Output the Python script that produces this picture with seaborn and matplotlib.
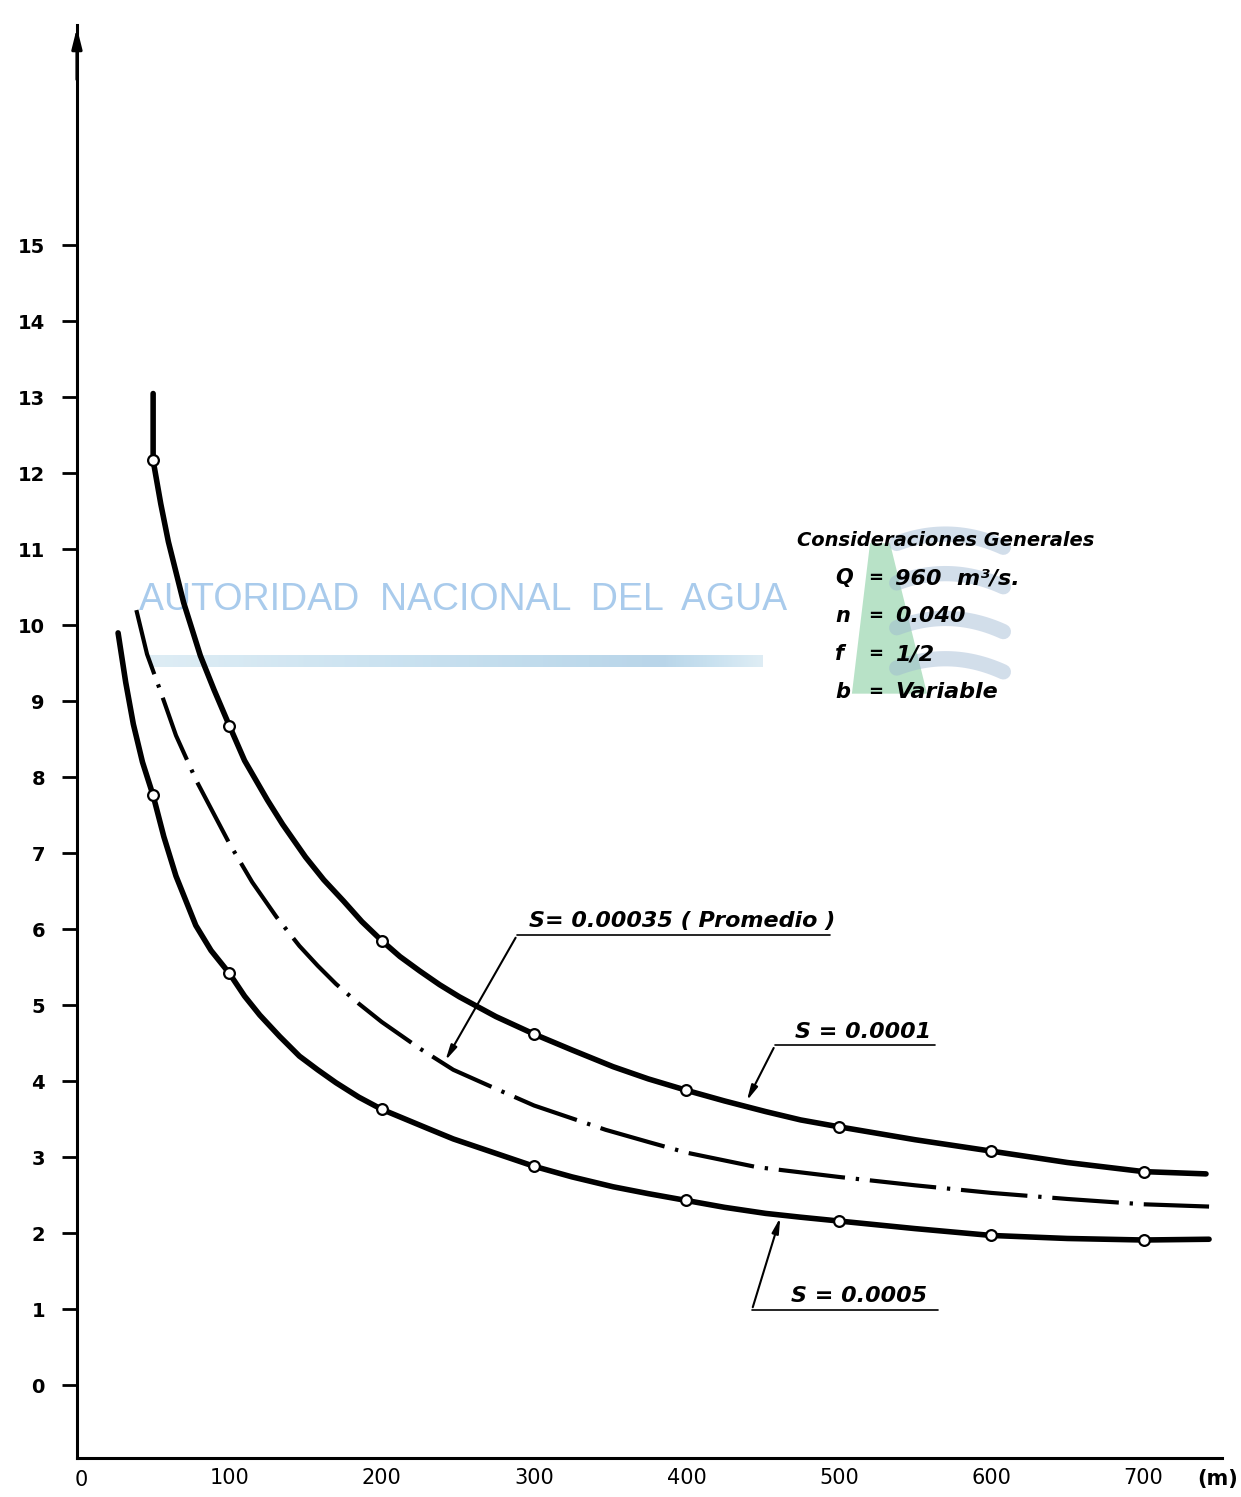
import numpy as np
import pandas as pd
import seaborn as sns
import matplotlib.pyplot as plt
from matplotlib.patches import Polygon

sns.set_style('white')
plt.rcParams['font.family'] = ['DejaVu Sans']
plt.rcParams['text.color'] = 'black'
plt.rcParams['xtick.color'] = 'black'
plt.rcParams['ytick.color'] = 'black'

# valores (x en m, y en m)
x_upper = [50, 50, 55, 60, 70, 81, 90, 100, 110, 125, 135, 150, 162, 175, 187, 200, 212, 225, 238, 251,
           275, 300, 325, 352, 375, 400, 425, 452, 475, 500, 550, 600, 650, 700, 741]
y_upper = [13.05, 12.17, 11.6, 11.1, 10.3, 9.6, 9.15, 8.68, 8.22, 7.7, 7.38, 6.95, 6.65, 6.37, 6.1, 5.85,
           5.64, 5.45, 5.27, 5.11, 4.85, 4.62, 4.41, 4.19, 4.03, 3.88, 3.74, 3.60, 3.49, 3.40, 3.23, 3.08,
           2.93, 2.81, 2.78]

x_mid = [39, 46, 54.5, 65, 78.5, 100, 115, 131, 146, 158, 170, 185, 200, 225, 247, 275, 300, 325, 347,
         375, 400, 446, 500, 550, 600, 650, 700, 743]
y_mid = [10.2, 9.62, 9.15, 8.55, 7.95, 7.13, 6.62, 6.16, 5.78, 5.52, 5.28, 5.02, 4.78, 4.43, 4.15, 3.9,
         3.68, 3.51, 3.36, 3.2, 3.06, 2.87, 2.74, 2.63, 2.53, 2.45, 2.38, 2.35]

x_lower = [27, 32, 37, 43, 50, 57, 65, 78, 88, 100, 110, 120, 133, 146, 158, 170, 185, 200, 230, 247,
           300, 325, 352, 375, 400, 425, 452, 475, 500, 550, 600, 650, 700, 743]
y_lower = [9.9, 9.25, 8.7, 8.2, 7.76, 7.22, 6.7, 6.05, 5.72, 5.42, 5.12, 4.87, 4.59, 4.33, 4.15, 3.98,
           3.79, 3.63, 3.38, 3.24, 2.88, 2.74, 2.61, 2.52, 2.43, 2.34, 2.26, 2.21, 2.16, 2.06, 1.97, 1.93,
           1.91, 1.92]

# puntos calculados (circulos)
x_pts = [50, 100, 200, 300, 400, 500, 600, 700]
y_pts_upper = [12.17, 8.68, 5.85, 4.62, 3.88, 3.40, 3.08, 2.81]
y_pts_lower = [7.76, 5.42, 3.63, 2.88, 2.43, 2.16, 1.97, 1.91]

x_ticks = [100, 200, 300, 400, 500, 600, 700]
y_ticks = list(range(0, 16))

df_up = pd.DataFrame({'x': x_upper, 'y': y_upper})
df_mid = pd.DataFrame({'x': x_mid, 'y': y_mid})
df_low = pd.DataFrame({'x': x_lower, 'y': y_lower})
df_pts = pd.DataFrame({'x': x_pts * 2, 'y': y_pts_upper + y_pts_lower})

fig = plt.figure(figsize=(12.41, 14.97), dpi=100)
ax = fig.add_axes([0.062, 0.026, 0.9227, 0.9573])

# marca de agua
ax.text(41, 10.33, 'AUTORIDAD  NACIONAL  DEL  AGUA', fontsize=27, color='#a9cbec',
        family=['Liberation Sans Narrow', 'Liberation Sans'], va='center', ha='left', zorder=0)
grad = np.concatenate([np.linspace(0.1, 1, 200), np.linspace(1, 0.1, 40)]).reshape(1, -1)
ax.imshow(grad, extent=[48, 450, 9.45, 9.6], aspect='auto', cmap='Blues', alpha=0.35,
          vmin=-1, vmax=2, zorder=0)
ax.add_patch(Polygon([[508.6, 9.1], [557.9, 9.1], [533.6, 11.08], [520.5, 11.08]], closed=True,
                     color='#9ad6b0', alpha=0.7, lw=0, zorder=0))
for yy in [11.14, 10.62, 10.03, 9.5]:
    xs = np.linspace(538, 608, 30)
    ax.plot(xs, yy - 0.00012 * (xs - 570) ** 2 + 0.06, color='#9db6d2', lw=11, alpha=0.45,
            solid_capstyle='round', zorder=0)

sns.lineplot(data=df_up, x='x', y='y', ax=ax, sort=False, estimator=None, color='black', lw=4, zorder=3)
sns.lineplot(data=df_low, x='x', y='y', ax=ax, sort=False, estimator=None, color='black', lw=4, zorder=3)
sns.lineplot(data=df_mid, x='x', y='y', ax=ax, sort=False, estimator=None, color='black', lw=3,
             linestyle=(0, (16, 2.6, 0.8, 2.6)), zorder=3)
sns.scatterplot(data=df_pts, x='x', y='y', ax=ax, color='white', edgecolor='black', linewidth=1.6,
                s=60, zorder=4)

ax.set_xlim(0, 751.5)
ax.set_ylim(-0.96, 17.9)
ax.set_xticks(x_ticks)
ax.set_xticklabels([str(v) for v in x_ticks])
ax.set_yticks(y_ticks)
ax.set_yticklabels([str(v) for v in y_ticks], fontweight='bold')
ax.tick_params(axis='x', direction='inout', length=9, width=2, labelsize=15, pad=3)
ax.tick_params(axis='y', direction='out', length=11, width=2, labelsize=14, pad=12, left=True)
ax.set_xlabel('')
ax.set_ylabel('')
ax.text(3, -1.12, '0', fontsize=15, ha='center', va='top')
ax.text(762, -1.1, '(m)', fontsize=15, ha='right', va='top', fontweight='bold')
for side in ['top', 'right']:
    ax.spines[side].set_visible(False)
for side in ['left', 'bottom']:
    ax.spines[side].set_linewidth(2.2)
    ax.spines[side].set_color('black')
ax.annotate('', xy=(0, 1.0), xycoords='axes fraction', xytext=(0, 0.96),
            arrowprops=dict(arrowstyle='-|>,head_length=1.2,head_width=0.3', color='black', lw=2.2))

# etiquetas de las curvas
lbl = dict(fontsize=16, style='italic', fontweight='bold', ha='left', va='bottom')
ax.text(297, 5.98, 'S= 0.00035 ( Promedio )', **lbl)
ax.plot([288.8, 494.3], [5.92, 5.92], color='black', lw=1.2)
ax.annotate('', xy=(240.9, 4.24), xytext=(288.8, 5.92),
            arrowprops=dict(arrowstyle='-|>,head_length=0.9,head_width=0.2', color='black', lw=1.5))
ax.text(471, 4.52, 'S = 0.0001', **lbl)
ax.plot([458.1, 563.1], [4.47, 4.47], color='black', lw=1.2)
ax.annotate('', xy=(438.8, 3.71), xytext=(458.1, 4.47),
            arrowprops=dict(arrowstyle='-|>,head_length=0.9,head_width=0.2', color='black', lw=1.5))
ax.text(468.6, 1.04, 'S = 0.0005', **lbl)
ax.plot([443, 565.1], [0.99, 0.99], color='black', lw=1.2)
ax.annotate('', xy=(462.1, 2.24), xytext=(443, 0.99),
            arrowprops=dict(arrowstyle='-|>,head_length=0.9,head_width=0.2', color='black', lw=1.5))

# consideraciones generales
ax.text(472.6, 11.12, 'Consideraciones Generales', fontsize=14, style='italic', fontweight='bold',
        va='center', ha='left')
params = [('Q', '960  m³/s.'), ('n', '0.040'), ('f', '1/2'), ('b', 'Variable')]
for i, (k, v) in enumerate(params):
    yy = 10.62 - 0.5 * i
    ax.text(497.5, yy, k, fontsize=15, style='italic', fontweight='bold', va='center')
    ax.text(519, yy, '=', fontsize=13, fontweight='bold', va='center')
    ax.text(537, yy, v, fontsize=16, style='italic', fontweight='bold', va='center')

fig.savefig('out.png', dpi=100)
